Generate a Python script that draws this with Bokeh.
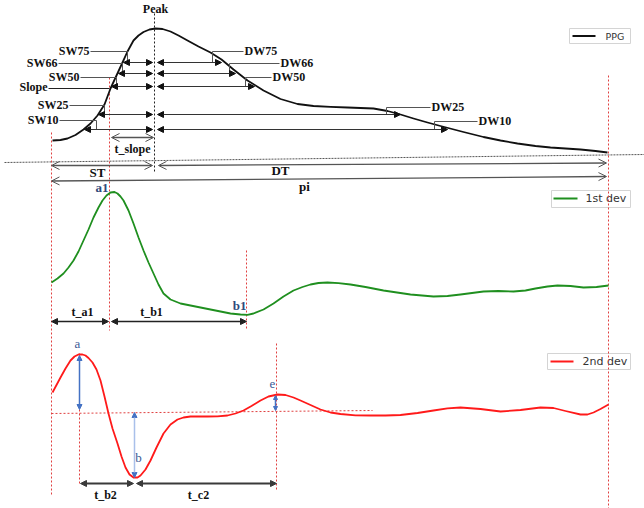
from bokeh.plotting import figure
from bokeh.models import Range1d, ColumnDataSource, Arrow, NormalHead, OpenHead
from bokeh.core.properties import value
from bokeh.embed import file_html
from bokeh.resources import INLINE

# ---- waveform samples (time position, amplitude) ----
ppg_x = [52, 60, 67, 75, 83, 90, 97, 104, 110, 116, 122, 127, 133, 138, 143, 149, 155, 162, 170, 178,
         187, 198, 210, 221, 233, 247, 263, 280, 297, 313, 330, 347, 373, 387, 400, 413, 427, 440, 463,
         483, 500, 517, 535, 550, 565, 580, 595, 607]
ppg_y = [140, 139.5, 138, 134.5, 129, 123, 115, 104, 88, 75, 62, 51, 40, 35, 31.5, 29, 28, 28.5, 31, 35,
         40, 46, 52, 59, 69, 80, 90, 98.5, 103.5, 105.5, 106.3, 107, 108, 110.5, 114, 118, 122, 125.5, 131.5,
         136.5, 140, 143, 145.5, 147, 148, 149, 150.5, 152]

d1_x = [51, 57, 63, 68, 73, 78, 83, 88, 93, 98, 102, 106, 110, 114, 117, 120, 123, 128, 133, 138, 143,
        148, 153, 158, 163, 170, 180, 190, 200, 210, 220, 230, 240, 247, 253, 263, 273, 283, 293, 302,
        310, 318, 327, 338, 350, 365, 383, 410, 433, 447, 460, 483, 498, 513, 525, 535, 547, 557, 570, 583,
        596, 608]
d1_y = [282, 278, 273, 267, 260, 251, 240, 229, 217, 207, 200, 195, 192, 191.5, 193, 196, 200, 210, 223,
        237, 250, 262, 273, 284, 293, 299, 303, 305, 307, 309, 311, 313, 314, 314.3, 313, 309, 303, 296,
        290, 286.5, 284, 282.5, 282, 282.6, 284, 286.5, 290, 294, 296, 295.5, 294, 291, 290.5, 291, 290, 288,
        286, 285, 285.5, 287, 286.5, 285]

d2_x = [52, 56, 60, 65, 70, 74, 78, 82, 85, 88, 92, 96, 100, 104, 108, 112, 117, 121, 125, 129, 133, 137,
        140, 145, 150, 156, 163, 170, 177, 183, 190, 198, 207, 217, 227, 235, 243, 251, 260, 268, 277,
        285, 293, 300, 310, 320, 330, 340, 355, 370, 385, 400, 417, 433, 447, 460, 480, 500, 520, 540,
        553, 565, 580, 587, 593, 600, 608]
d2_y = [392, 384.5, 377, 368, 360, 356, 354, 354, 355, 357.5, 362, 369, 380, 396, 413, 428, 443, 456, 467,
        474, 477, 477, 475, 469, 460, 447, 433, 424, 419, 417, 416, 416, 416, 415.8, 415, 413, 410, 405.5, 400,
        396, 394, 394.5, 397, 400, 404.5, 409, 412, 413.5, 414.8, 415, 415, 414.5, 412.5, 410, 407.8, 407,
        408.5, 411, 409.5, 407, 407.5, 410.5, 414, 414, 412, 408.5, 404]

# ---- width levels (labels) ----
sw_labels = ["SW75", "SW66", "SW50", "SW25", "SW10"]
dw_labels = ["DW75", "DW66", "DW50", "DW25", "DW10"]
series_names = ["PPG", "1st dev", "2nd dev"]
series_colors = ["#111111", "#1f8f1f", "#ff1a1a"]

p = figure(width=644, height=508, x_range=Range1d(0, 644), y_range=Range1d(508, 0),
           output_backend="svg", toolbar_location=None, x_axis_location=None,
           y_axis_location=None, min_border=0)
p.grid.visible = False
p.outline_line_color = None
p.background_fill_color = "white"

SERIF = value("Liberation Serif")
SANS = value("DejaVu Sans")


def txt(x, y, s, align="center", color="#111111", size="12px", style="bold", font=SERIF):
    p.text(x=[x], y=[y], text=[s], text_align=align, text_baseline="middle",
           text_font=font, text_font_size=size, text_font_style=style, text_color=color)


# ---- legend boxes ----
leg_boxes = [(569, 630, 28, 43), (551, 630, 190, 207), (547, 630, 353, 369)]
leg_lines = [(572, 595, 35.5), (553, 577, 198), (550, 573, 361)]
leg_text_x = [605, 585, 582]
leg_sizes = ["9.5px", "11px", "11px"]
for (l, r, t, b), (lx0, lx1, ly), tx, nm, col, fs in zip(leg_boxes, leg_lines, leg_text_x,
                                                         series_names, series_colors, leg_sizes):
    p.quad(left=[l], right=[r], top=[t], bottom=[b], fill_color="white", fill_alpha=0.9,
           line_color="#d4d4d4", line_width=1)
    p.line([lx0, lx1], [ly, ly], line_color=col, line_width=2)
    txt(tx, ly, nm, align="left", color="#333333", size=fs, style="normal", font=SANS)

# ---- reference lines ----
p.line([4, 644], [162, 154], line_color="#555555", line_dash="2 1", line_width=1)
p.line([51, 372], [413, 410], line_color="#e04040", line_dash="2 2", line_width=1)
red_v = [(51, 132, 495), (109, 77, 330), (608, 75, 508), (246, 250, 330), (79, 353, 485), (276, 343, 489)]
for x, y0, y1 in red_v:
    p.line([x, x], [y0, y1], line_color="#e04040", line_dash="2 2", line_width=1)
p.line([154, 154], [13, 172], line_color="#222222", line_dash="2 2", line_width=1)

# ---- curves ----
p.line(ppg_x, ppg_y, line_color=series_colors[0], line_width=1.8, line_join="round")
p.line(d1_x, d1_y, line_color=series_colors[1], line_width=1.8, line_join="round")
p.line(d2_x, d2_y, line_color=series_colors[2], line_width=1.8, line_join="round")

# ---- width rows ----
rows_y = [62, 73, 86, 114, 129]
left_tip = [123, 118, 111, 98, 84]
right_tip = [221, 235, 254, 400, 447]
l_tick_x = [127, 122, 116, 104, 96]
l_lead_y = [51, 63, 77, 105, 120]
l_text_r = [89, 57, 79, 68, 58]
r_tick_x = [212, 229, 245, 386, 434]
r_lead_y = [51, 63, 77, 107, 121]
r_text_l = [244, 280, 272, 431, 478]

for i in range(5):
    p.line([l_text_r[i] + 1, l_tick_x[i], l_tick_x[i]], [l_lead_y[i], l_lead_y[i], rows_y[i]],
           line_color="#555555", line_width=1)
    txt(l_text_r[i], l_lead_y[i] - 1, sw_labels[i], align="right")
    p.line([r_text_l[i] - 1, r_tick_x[i], r_tick_x[i]], [r_lead_y[i], r_lead_y[i], rows_y[i]],
           line_color="#555555", line_width=1)
    txt(r_text_l[i], r_lead_y[i] - 1, dw_labels[i], align="left")

p.line([48, 109], [88, 88], line_color="#222222", line_width=1)
txt(47, 86, "Slope", align="right")

row_src_l = ColumnDataSource(dict(x0=left_tip, x1=[152] * 5, y=rows_y))
row_src_r = ColumnDataSource(dict(x0=[157] * 5, x1=right_tip, y=rows_y))
for src in (row_src_l, row_src_r):
    p.add_layout(Arrow(start=NormalHead(size=6, fill_color="#111111", line_color="#111111"),
                       end=NormalHead(size=6, fill_color="#111111", line_color="#111111"),
                       x_start="x0", y_start="y", x_end="x1", y_end="y", source=src,
                       line_color="#333333", line_width=1))


def open_arrow(x0, y0, x1, y1, color="#555555"):
    p.add_layout(Arrow(start=OpenHead(size=8, line_color=color, line_width=1),
                       end=OpenHead(size=8, line_color=color, line_width=1),
                       x_start=x0, y_start=y0, x_end=x1, y_end=y1,
                       line_color=color, line_width=1.3))

open_arrow(111, 137, 153, 137)
open_arrow(51, 165, 152, 165)
open_arrow(158, 165, 606, 162.5)
open_arrow(51, 180.5, 606, 176)
txt(132, 148, "t_slope", size="12px")
txt(155, 8, "Peak", size="12px")
txt(97, 172, "ST", size="13px")
txt(280, 170, "DT", size="13px")
txt(304, 186, "pi", size="13px")


def solid_arrow(x0, y0, x1, y1, color="#222222", w=1.3, size=6):
    p.add_layout(Arrow(start=NormalHead(size=size, fill_color=color, line_color=color),
                       end=NormalHead(size=size, fill_color=color, line_color=color),
                       x_start=x0, y_start=y0, x_end=x1, y_end=y1,
                       line_color=color, line_width=w))

solid_arrow(51, 321, 108, 321)
solid_arrow(111, 321, 246, 321)
solid_arrow(80, 483, 133, 483, color="#3a3a3a", w=2)
solid_arrow(136, 483, 276, 483, color="#3a3a3a", w=2)
txt(82, 311, "t_a1")
txt(151, 311, "t_b1")
txt(105, 494, "t_b2")
txt(198, 494, "t_c2")

solid_arrow(79, 355, 79, 409, color="#4472c4", w=1.5, size=5)
p.add_layout(Arrow(start=NormalHead(size=5, fill_color="#4472c4", line_color="#4472c4"),
                   end=NormalHead(size=5, fill_color="#4472c4", line_color="#4472c4"),
                   x_start=134, y_start=412, x_end=134, y_end=477,
                   line_color="#a9c0ea", line_width=1.5))
solid_arrow(275, 395, 275, 410, color="#4472c4", w=1.5, size=4)

BLUE = "#2f4a7c"
txt(108, 187, "a1", align="right", color=BLUE, size="13px")
txt(246, 305, "b1", align="right", color=BLUE, size="13px")
txt(77, 343, "a", color="#3b5a96", size="13px", style="normal")
txt(138, 457, "b", color="#3b5a96", size="13px", style="normal")
txt(272, 383, "e", color="#3b5a96", size="13px", style="normal")

open("out.html", "w").write(file_html(p, INLINE))
